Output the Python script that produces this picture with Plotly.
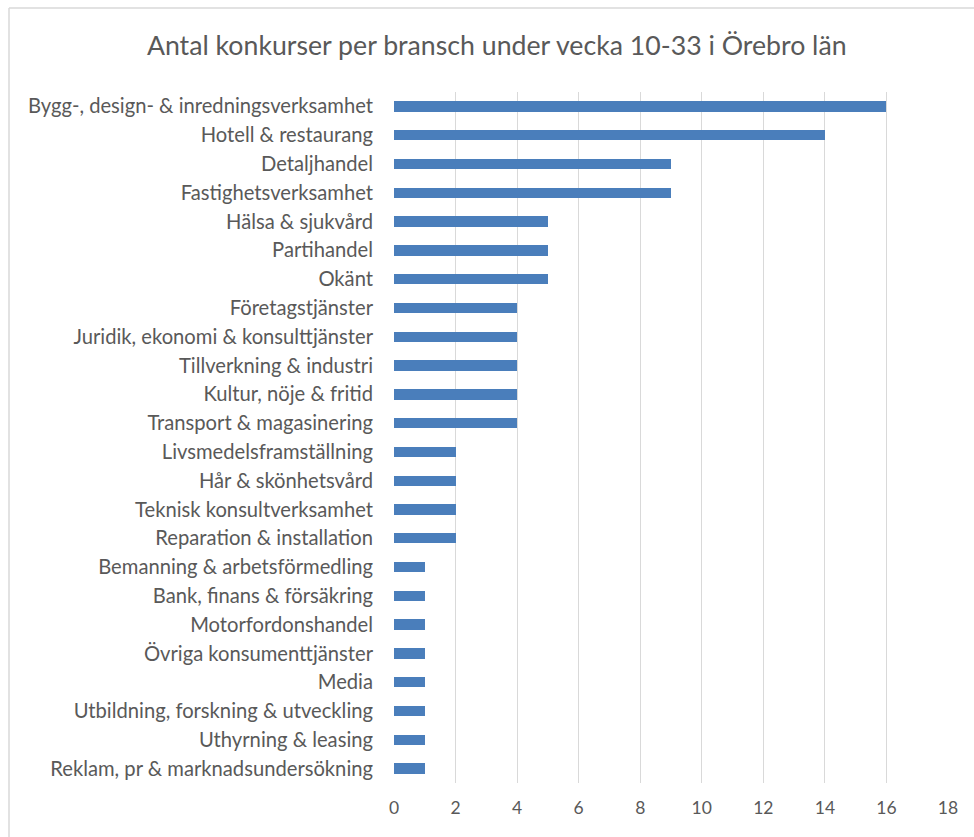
import plotly.graph_objects as go

categories = [
    "Bygg-, design- & inredningsverksamhet",
    "Hotell & restaurang",
    "Detaljhandel",
    "Fastighetsverksamhet",
    "Hälsa & sjukvård",
    "Partihandel",
    "Okänt",
    "Företagstjänster",
    "Juridik, ekonomi & konsulttjänster",
    "Tillverkning & industri",
    "Kultur, nöje & fritid",
    "Transport & magasinering",
    "Livsmedelsframställning",
    "Hår & skönhetsvård",
    "Teknisk konsultverksamhet",
    "Reparation & installation",
    "Bemanning & arbetsförmedling",
    "Bank, finans & försäkring",
    "Motorfordonshandel",
    "Övriga konsumenttjänster",
    "Media",
    "Utbildning, forskning & utveckling",
    "Uthyrning & leasing",
    "Reklam, pr & marknadsundersökning",
]
values = [16, 14, 9, 9, 5, 5, 5, 4, 4, 4, 4, 4, 2, 2, 2, 2, 1, 1, 1, 1, 1, 1, 1, 1]
tick_values = [0, 2, 4, 6, 8, 10, 12, 14, 16, 18]
title_text = "Antal konkurser per bransch under vecka 10-33 i Örebro län"

W, H = 974, 837
L, R, T, B = 394, 26, 92, 54
pw = W - L - R
ph = H - T - B

fig = go.Figure(go.Bar(
    x=values,
    y=categories,
    orientation="h",
    width=0.36,
    marker=dict(color="#4a7ebb", line=dict(width=0)),
))

font = "Lato, 'Open Sans', sans-serif"
fig.update_layout(
    width=W, height=H,
    margin=dict(l=L, r=R, t=T, b=B, pad=0),
    paper_bgcolor="white",
    plot_bgcolor="white",
    showlegend=False,
    title=dict(text=title_text, x=0.510, xanchor="center",
               y=1 - 46 / H, yanchor="middle",
               font=dict(family=font, size=26.7, color="#595959")),
    font=dict(family=font, color="#595959"),
    bargap=0,
    xaxis=dict(
        range=[0, 18],
        tickvals=tick_values,
        ticktext=[str(v) for v in tick_values],
        showgrid=True, gridcolor="#d9d9d9", gridwidth=1,
        zeroline=False,
        showline=False,
        ticks="",
        ticklabelstandoff=12,
        tickfont=dict(family=font, size=17.5, color="#595959"),
        fixedrange=True,
    ),
    yaxis=dict(
        categoryorder="array",
        categoryarray=categories,
        autorange="reversed",
        showgrid=False,
        showline=False,
        ticks="",
        ticklabelstandoff=20,
        tickfont=dict(family=font, size=20.2, color="#595959"),
        fixedrange=True,
    ),
    shapes=[
        dict(type="line", xref="paper", yref="paper",
             x0=(9 - L) / pw, x1=(W - L) / pw,
             y0=1 + (T - 8) / ph, y1=1 + (T - 8) / ph,
             line=dict(color="#d9d9d9", width=1.5)),
        dict(type="line", xref="paper", yref="paper",
             x0=(9 - L) / pw, x1=(9 - L) / pw,
             y0=1 + (T - 8) / ph, y1=-(B) / ph,
             line=dict(color="#d9d9d9", width=1.5)),
    ],
)

fig.write_html("out.html", config={"displayModeBar": False},
               post_script="document.body.style.margin='0';document.body.style.overflow='hidden';")
